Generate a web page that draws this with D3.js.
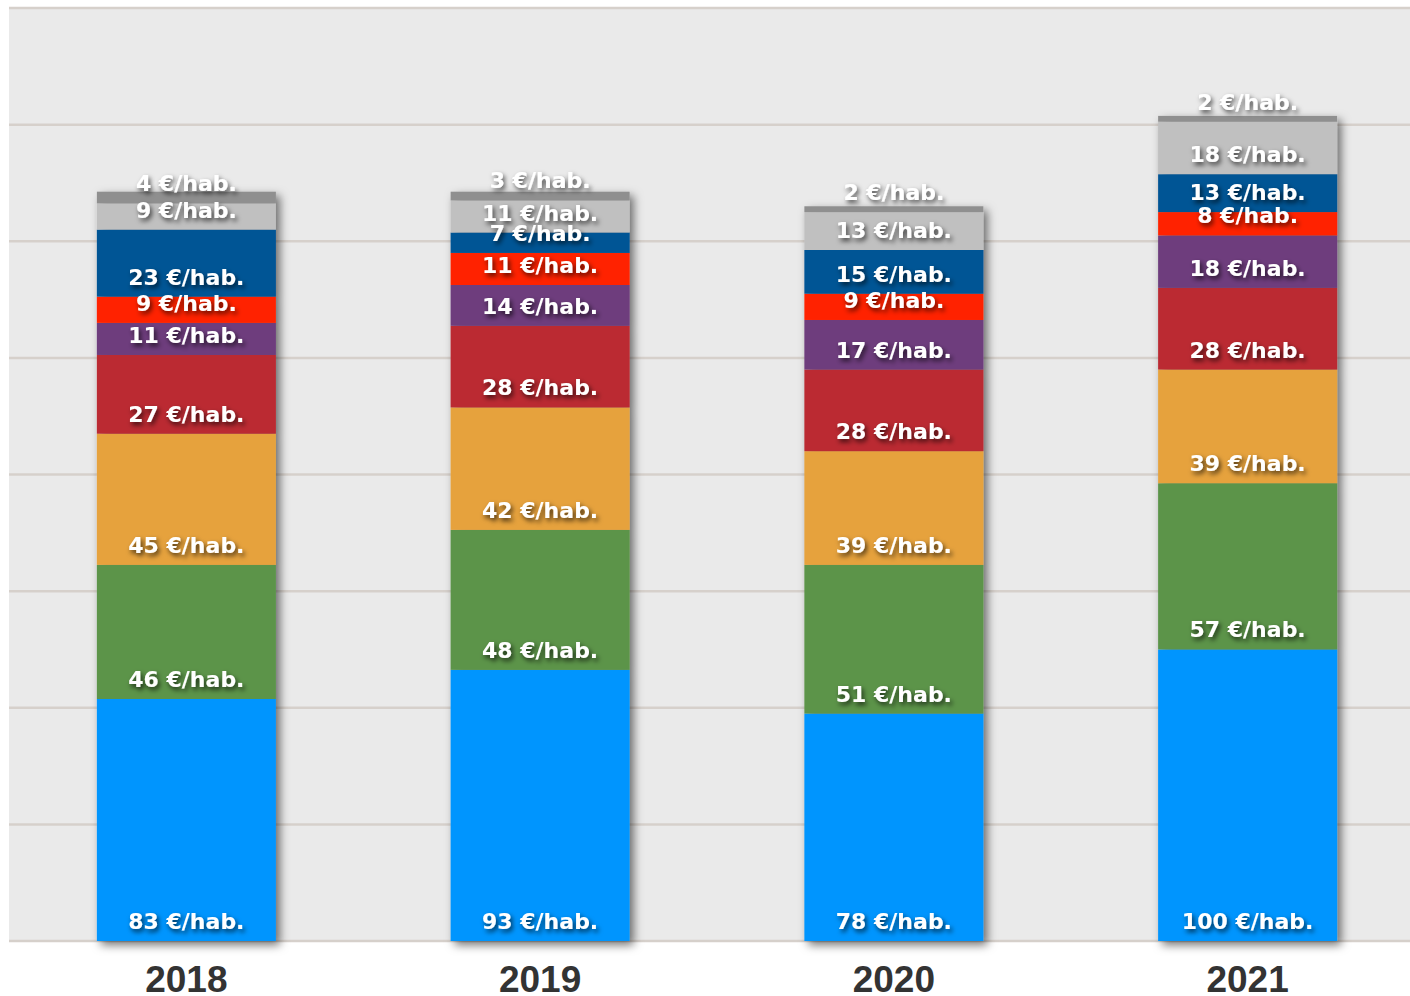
<!DOCTYPE html>
<html>
<head>
<meta charset="utf-8">
<script src="https://cdn.jsdelivr.net/npm/d3@7"></script>
<style>
  html, body { margin: 0; padding: 0; background: #ffffff; }
  svg { display: block; }
</style>
</head>
<body>
<div id="chart"></div>
<script>
// data, bottom segment first
var years = ["2018", "2019", "2020", "2021"];
var seriesNames = ["s1", "s2", "s3", "s4", "s5", "s6", "s7", "s8", "s9"];
var seriesColors = ["#0095fe", "#5b9449", "#e6a23d", "#bb2b30", "#6e3d7d", "#ff2400", "#005495", "#c0c0c0", "#8f8f8f"];
var values2018 = [83, 46, 45, 27, 11, 9, 23, 9, 4];
var values2019 = [93, 48, 42, 28, 14, 11, 7, 11, 3];
var values2020 = [78, 51, 39, 28, 17, 9, 15, 13, 2];
var values2021 = [100, 57, 39, 28, 18, 8, 13, 18, 2];
var yTicks = [0, 40, 80, 120, 160, 200, 240, 280, 320];
var unit = " €/hab.";

var allValues = [values2018, values2019, values2020, values2021];

var W = 1410, H = 996;
var svg = d3.select("#chart").append("svg")
	.attr("width", W)
	.attr("height", H);

var defs = svg.append("defs");
defs.append("filter").attr("id", "barShadow")
	.attr("x", "-10%").attr("y", "-10%").attr("width", "130%").attr("height", "130%")
	.append("feDropShadow")
	.attr("dx", 4).attr("dy", 4).attr("stdDeviation", 5)
	.attr("flood-color", "#000").attr("flood-opacity", 0.55);
defs.append("filter").attr("id", "textShadow")
	.attr("x", "-10%").attr("y", "-30%").attr("width", "130%").attr("height", "170%")
	.append("feDropShadow")
	.attr("dx", 2).attr("dy", 3).attr("stdDeviation", 2.5)
	.attr("flood-color", "#000").attr("flood-opacity", 0.7);

var x = d3.scaleBand()
	.domain(years)
	.range([9.5, 1424.5])
	.paddingInner(0.494)
	.paddingOuter(0.247);

var y = d3.scaleLinear()
	.domain([0, 320])
	.range([941, 8]);

// plot background
svg.append("rect")
	.attr("x", 9).attr("y", y(320))
	.attr("width", W - 9).attr("height", y(0) - y(320))
	.style("fill", "#eaeaea");

// gridlines
svg.append("g").selectAll("line")
	.data(yTicks)
	.enter().append("line")
	.attr("x1", 9).attr("x2", W)
	.attr("y1", function(d) { return y(d); })
	.attr("y2", function(d) { return y(d); })
	.attr("stroke", "#d6d0cb")
	.attr("stroke-width", 2.5);

// stack data
var rows = years.map(function(yr, i) {
	var r = { year: yr };
	seriesNames.forEach(function(s, j) { r[s] = allValues[i][j]; });
	return r;
});
var stacked = d3.stack().keys(seriesNames)(rows);

var barGroup = svg.append("g");
years.forEach(function(yr, i) {
	var g = barGroup.append("g").attr("filter", "url(#barShadow)");
	stacked.forEach(function(layer, j) {
		var d = layer[i];
		g.append("rect")
			.attr("x", x(yr))
			.attr("width", x.bandwidth())
			.attr("y", y(d[1]))
			.attr("height", y(d[0]) - y(d[1]))
			.style("fill", seriesColors[j]);
	});
});

// value labels
var labelGroup = svg.append("g")
	.attr("filter", "url(#textShadow)")
	.style("font-family", "'DejaVu Sans', Verdana, sans-serif")
	.style("font-weight", "bold")
	.style("font-size", "22px")
	.style("fill", "#ffffff");
stacked.forEach(function(layer, j) {
	layer.forEach(function(d, i) {
		labelGroup.append("text")
			.attr("x", x(years[i]) + x.bandwidth() / 2)
			.attr("y", y(d[0]) - 12)
			.attr("text-anchor", "middle")
			.text(allValues[i][j] + unit);
	});
});

// year axis
var xAxis = svg.append("g")
	.attr("transform", "translate(0," + y(0) + ")")
	.call(d3.axisBottom(x).tickSize(0).tickPadding(0));
xAxis.select(".domain").remove();
xAxis.selectAll("text")
	.attr("dy", 0)
	.attr("y", 51)
	.style("font-family", "'Liberation Sans', Arial, sans-serif")
	.style("font-weight", "bold")
	.style("font-size", "37px")
	.style("fill", "#333333");
</script>
</body>
</html>
